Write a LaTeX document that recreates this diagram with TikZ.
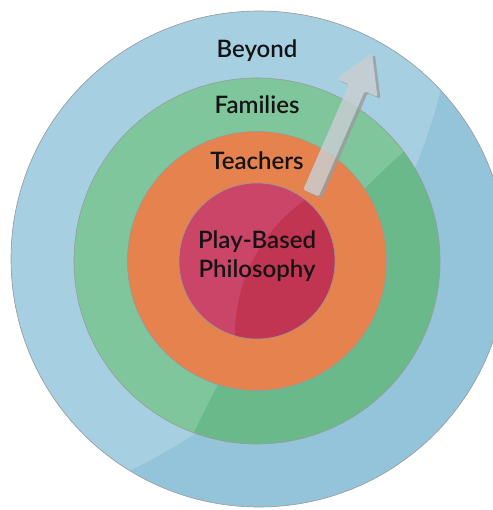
\documentclass[tikz,border=0pt]{standalone}
\usepackage{fontspec}
\setmainfont{Lato Semibold}
\usetikzlibrary{positioning, calc}

\definecolor{beyondlight}{HTML}{A6CFE2}
\definecolor{beyonddark}{HTML}{93C4DA}
\definecolor{familylight}{HTML}{7FC69D}
\definecolor{familydark}{HTML}{6AB98A}
\definecolor{teacherfill}{HTML}{E5824D}
\definecolor{playlight}{HTML}{CB4569}
\definecolor{playdark}{HTML}{C13452}
\definecolor{ringline}{HTML}{9A9A9A}
\definecolor{arrowfill}{HTML}{C9CED2}
\definecolor{arrowshadow}{HTML}{9A9C9E}

\tikzset{
  ring/.style = {circle, draw=ringline, line width=0.6pt, inner sep=0pt, minimum size=#1},
  ringlabel/.style = {font=\fontsize{24}{29}\selectfont, text=black!92, anchor=base, inner sep=0pt},
}

% outline of the fat arrow, from (tail) to (tip)
\newcommand{\arrowoutline}{
  ($(tail)!8.5pt!90:(tip)$) -- ($(headbase)!8.5pt!90:(tip)$) -- ($(headbase)!22.5pt!90:(tip)$)
  -- (tip) -- ($(headbase)!22.5pt!-90:(tip)$) -- ($(headbase)!8.5pt!-90:(tip)$)
  -- ($(tail)!8.5pt!-90:(tip)$) -- cycle
}

\begin{document}
\begin{tikzpicture}[x=1pt, y=-1pt]
  \useasboundingbox (0,0) rectangle (492,510);

  % rings, each with its own highlight (path picture is relative to the ring centre)
  \node[ring=496pt, fill=beyonddark,
        path picture={\fill[beyondlight] (-384,-314) circle[radius=584pt];}] (beyond) at (259,259) {};
  \node[ring=366pt, fill=familylight,
        path picture={\fill[familydark] (712,531) circle[radius=854pt];}] (families) at (257,261) {};
  \node[ring=259pt, fill=teacherfill] (teachers) at (257,261) {};
  \node[ring=156pt, fill=playlight,
        path picture={\fill[playdark] (143,74) circle[radius=165pt];}] (play) at (257,261) {};

  % labels
  \node[ringlabel] (beyondtext)   at (257,58)  {Beyond};
  \node[ringlabel] (familiestext) at (257,114) {Families};
  \node[ringlabel] (teacherstext) at (257,170) {Teachers};
  \node[ringlabel, anchor=center, align=center] (playtext) at (257,256) {Play-Based\\Philosophy};

  % arrow pointing outwards
  \coordinate (tail) at (311,193);
  \coordinate (tip)  at (372,53);
  \coordinate (headbase) at ($(tip)!38pt!(tail)$);
  \begin{scope}[transparency group, opacity=0.82]
    \fill[arrowshadow, rounded corners=1.5pt, transform canvas={shift={(3pt,-2pt)}}] \arrowoutline;
    \fill[arrowfill, rounded corners=1.5pt] \arrowoutline;
  \end{scope}
\end{tikzpicture}
\end{document}
